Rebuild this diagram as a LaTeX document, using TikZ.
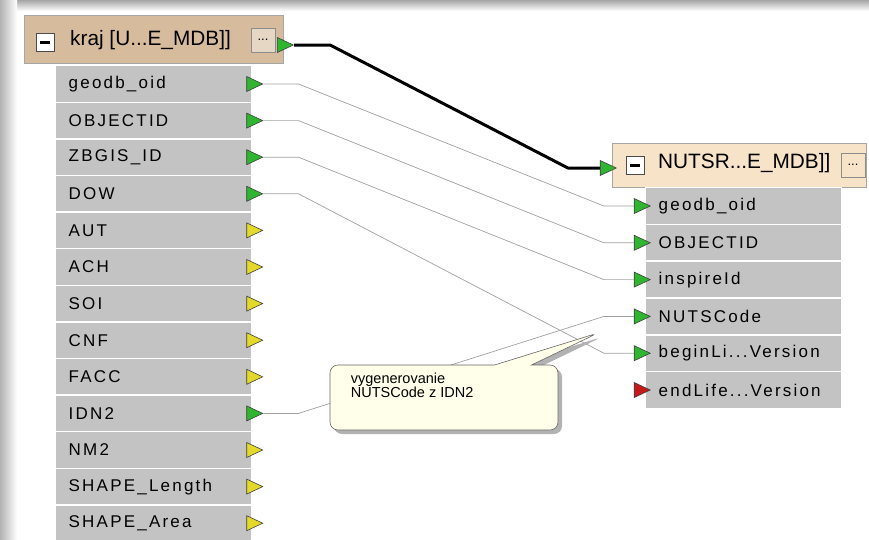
\documentclass[tikz,border=0pt]{standalone}
\usepackage{fontspec}
\setmainfont{Liberation Sans}
\newfontfamily\rowfont[LetterSpace=13]{Liberation Sans}
\usepackage{tikz}
\usetikzlibrary{shapes.geometric,shapes.callouts,shadows,calc,positioning}
\definecolor{rowgray}{HTML}{C3C3C3}
\definecolor{tanleft}{HTML}{D6BB9C}
\definecolor{tanright}{HTML}{F7E4C8}
\definecolor{portgreen}{HTML}{2FB52F}
\definecolor{portyellow}{HTML}{E3D92A}
\definecolor{portred}{HTML}{C41A1A}
\definecolor{linkgray}{HTML}{A0A0A0}
\definecolor{notefill}{HTML}{FFFFEA}
\newcommand{\tridots}{...}

\begin{document}
\begin{tikzpicture}[x=1pt,y=-1pt,
  rowbox/.style={draw=white, line width=1.4pt, fill=rowgray, anchor=north west,
    text width=170pt, inner xsep=13pt, inner ysep=0pt, minimum height=36.6pt,
    align=left, font=\rowfont\fontsize{17}{19}\selectfont},
  port/.style={isosceles triangle, isosceles triangle stretches, inner sep=0pt,
    minimum width=15pt, minimum height=16pt, fill=#1, draw=black!75, line width=0.6pt},
  header/.style={anchor=north west, inner sep=0pt, draw=black!35, line width=0.5pt},
  title/.style={anchor=west, inner sep=0pt, font=\fontsize{20.8}{23}\selectfont},
  minusbox/.style={draw=black!70, fill=white, minimum size=18pt, inner sep=0pt,
    path picture={\fill[black] ([xshift=-5pt,yshift=-1.5pt]path picture bounding box.center)
      rectangle ([xshift=5pt,yshift=1.5pt]path picture bounding box.center);}},
  dotsbtn/.style={draw=black!45, fill=#1, minimum size=24pt, inner sep=0pt,
    font=\fontsize{13}{13}\selectfont},
  link/.style={draw=linkgray, line width=0.7pt},
  flow/.style={draw=black, line width=3pt, line join=round},
  notebox/.style={rectangle callout, rounded corners=8pt, draw=black!60, fill=notefill,
    line width=0.6pt, minimum width=228pt, minimum height=65pt, callout pointer width=37pt,
    drop shadow={opacity=1, fill=black!30, shadow xshift=4pt, shadow yshift=-4pt}},
  notetext/.style={anchor=north west, inner sep=0pt, align=left,
    font=\fontsize{14.5}{14.5}\selectfont}
]
  \useasboundingbox (0,0) rectangle (869,539);
  % Tieň okna
  \shade[top color=black!35, bottom color=white] (0,0) rectangle (869,11);
  \shade[left color=black!30, right color=white] (0,0) rectangle (17,539);

  % Zdroj: kraj
  \node[header, fill=tanleft, minimum width=259pt, minimum height=48pt] (src) at (24,15) {};
  \node[minusbox] (srcminus) at (45,42) {};
  \node[title] (srctitle) at (70,40) {kraj [U\tridots E\_MDB]]};
  \node[dotsbtn=tanleft!60] (srcbtn) at (263,40) {\tridots};
  \node[port=portgreen, anchor=west] (srcport) at (277,45) {};

  \foreach \i/\t/\c in {1/geodb\_oid/portgreen, 2/OBJECTID/portgreen, 3/ZBGIS\_ID/portgreen,
      4/DOW/portgreen, 5/AUT/portyellow, 6/ACH/portyellow, 7/SOI/portyellow,
      8/CNF/portyellow, 9/FACC/portyellow, 10/IDN2/portgreen, 11/NM2/portyellow,
      12/SHAPE\_Length/portyellow, 13/SHAPE\_Area/portyellow} {
    \node[rowbox] (l\i) at (55,{65+(\i-1)*36.6}) {\t};
    \node[port=\c, anchor=west] (lp\i) at ([xshift=-6pt]l\i.east) {};
  }

  % Cieľ: NUTSR
  \node[header, fill=tanright, minimum width=254pt, minimum height=44pt] (dst) at (612,143) {};
  \node[minusbox] (dstminus) at (635,165) {};
  \node[title] (dsttitle) at (658,163) {NUTSR\tridots E\_MDB]]};
  \node[dotsbtn=tanright] (dstbtn) at (853,165) {\tridots};
  \node[port=portgreen, anchor=east] (dstport) at (617,168) {};

  \foreach \i/\t/\c in {1/geodb\_oid/portgreen, 2/OBJECTID/portgreen, 3/inspireId/portgreen,
      4/NUTSCode/portgreen, 5/beginLi\tridots Version/portgreen,
      6/endLife\tridots Version/portred} {
    \node[rowbox] (r\i) at (645,{187+(\i-1)*36.8}) {\t};
    \node[port=\c, anchor=east] (rp\i) at ([xshift=6pt]r\i.west) {};
  }

  % Spojenia
  \draw[flow] (srcport.east) -- ++(36,0) -- ([xshift=-32pt]dstport.west) -- (dstport.west);
  \foreach \a/\b in {1/1, 2/2, 3/3, 4/5, 10/4}
    \draw[link] (lp\a.east) -- ++(35,0) -- ([xshift=-30pt]rp\b.west) -- (rp\b.west);

  % Poznámka
  \node[notebox, callout absolute pointer={(598,333)}] (note) at (444,397.5) {};
  \node[notetext] (notetxt) at ([xshift=21pt,yshift=-8pt]note.north west)
    {vygenerovanie\\NUTSCode z IDN2};
\end{tikzpicture}
\end{document}
